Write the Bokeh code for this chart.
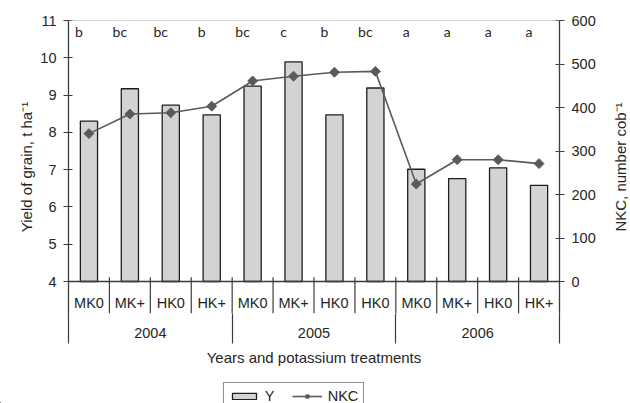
import math
from bokeh.plotting import figure
from bokeh.layouts import column, row
from bokeh.models import (Range1d, LinearAxis, FixedTicker, Span, Legend, LegendItem)
from bokeh.core.properties import value
from bokeh.embed import file_html
from bokeh.resources import INLINE

# ---------------- data ----------------
years = ["2004", "2005", "2006"]
treatments = ["MK0", "MK+", "HK0", "HK+",
              "MK0", "MK+", "HK0", "HK0",
              "MK0", "MK+", "HK0", "HK+"]
yield_t = [8.30, 9.17, 8.73, 8.47, 9.24, 9.89, 8.47, 9.19, 7.01, 6.76, 7.05, 6.58]
nkc = [340, 385, 388, 403, 461, 472, 481, 483, 224, 280, 280, 271]
letters = ["b", "bc", "bc", "b", "bc", "c", "b", "bc", "a", "a", "a", "a"]
yield_ticks = [4, 5, 6, 7, 8, 9, 10, 11]
nkc_ticks = [0, 100, 200, 300, 400, 500, 600]

# ---------------- layout (canvas pixels) ----------------
W, H = 630, 403
H1 = 372                                # main chart height, legend strip below
W1 = 598                                # main chart width, right title strip beside
FL, FR, FT, FB = 68, 560, 20, 313      # frame edges
BASE = 281                              # pixel row of yield=4 / nkc=0
SEP_OUT = 30                            # year separators below the frame
Y_LO, Y_HI = yield_ticks[0], yield_ticks[-1]
N_LO, N_HI = nkc_ticks[0], nkc_ticks[-1]
ypp = (Y_HI - Y_LO) / (BASE - FT)       # yield units per pixel
npp = (N_HI - N_LO) / (BASE - FT)
y_bot = Y_LO - (FB - BASE) * ypp
n_bot = N_LO - (FB - BASE) * npp
ncat = len(treatments)

def ydat(px):
    return Y_HI - (px - FT) * ypp

centers = [i + 0.5 for i in range(ncat)]
per_year = ncat // len(years)
year_centers = [per_year * k + per_year / 2 for k in range(len(years))]
year_bounds = [per_year * k for k in range(len(years) + 1)]

FONT = "Liberation Sans"
FS = "14.5px"
TFS = "15px"
TXT = "#262626"
AX = "#3c3c3c"
BAR_FILL, BAR_LINE = "#d3d3d3", "#1e1e1e"
LINE_C = "#5a5a5a"

def plain(fig):
    fig.outline_line_color = None
    fig.grid.visible = False
    fig.background_fill_color = "white"
    fig.border_fill_color = "white"

def style_title(ax, text, standoff):
    ax.axis_label = text
    ax.axis_label_standoff = standoff
    ax.axis_label_text_font = FONT
    ax.axis_label_text_font_size = TFS
    ax.axis_label_text_font_style = "normal"
    ax.axis_label_text_color = TXT

p1 = figure(width=W1, height=H1, x_range=Range1d(0, ncat), y_range=Range1d(y_bot, Y_HI),
            output_backend="svg", toolbar_location=None,
            min_border_left=FL, min_border_right=W1 - FR,
            min_border_top=FT, min_border_bottom=H1 - FB)
plain(p1)
p1.extra_y_ranges = {"nkc": Range1d(n_bot, N_HI)}

def style_value_axis(ax):
    ax.minor_tick_line_color = None
    ax.major_tick_in = 4
    ax.major_tick_out = 5
    ax.major_tick_line_color = AX
    ax.major_tick_line_width = 1.2
    ax.axis_line_color = AX
    ax.axis_line_width = 1.3
    ax.major_label_standoff = 7
    ax.major_label_text_font = FONT
    ax.major_label_text_font_size = FS
    ax.major_label_text_color = TXT

# left axis
ya = p1.yaxis[0]
ya.ticker = FixedTicker(ticks=yield_ticks)
style_value_axis(ya)
style_title(ya, "Yield of grain, t ha⁻¹", 2)

# right axis (its title sits in the strip beside)
ra = LinearAxis(y_range_name="nkc", ticker=FixedTicker(ticks=nkc_ticks))
style_value_axis(ra)
p1.add_layout(ra, "right")

# bottom axis: year labels, year separators (minor ticks) and title
xa = p1.xaxis[0]
xa.ticker = FixedTicker(ticks=year_centers, minor_ticks=year_bounds)
xa.major_label_overrides = {c: y for c, y in zip(year_centers, years)}
xa.axis_line_color = None
xa.major_tick_line_color = None
xa.major_tick_out = 0
xa.major_tick_in = 0
xa.minor_tick_line_color = AX
xa.minor_tick_line_width = 1.2
xa.minor_tick_in = 0
xa.minor_tick_out = SEP_OUT
xa.major_label_standoff = 14 - SEP_OUT
xa.major_label_text_font = FONT
xa.major_label_text_font_size = FS
xa.major_label_text_color = TXT
style_title(xa, "Years and potassium treatments", 8)

# top border and baseline
p1.add_layout(Span(location=Y_HI, dimension="width", line_color="#a6a6a6", line_width=1))
p1.add_layout(Span(location=Y_LO, dimension="width", line_color=AX, line_width=1.3))

# bars
bars = p1.vbar(x=centers, top=yield_t, bottom=Y_LO, width=0.42,
               fill_color=BAR_FILL, line_color=BAR_LINE, line_width=1.3)

# NKC line
ln = p1.line(x=centers, y=nkc, y_range_name="nkc", line_color=LINE_C, line_width=1.6)
sc = p1.scatter(x=centers, y=nkc, y_range_name="nkc", marker="square", angle=math.pi / 4,
                size=7, fill_color=LINE_C, line_color=LINE_C)

# significance letters
p1.text(x=centers, y=[ydat(31)] * ncat, text=letters, x_offset=-10,
        text_align="center", text_baseline="middle",
        text_font=value("Lato"), text_font_size="14px", text_color=TXT)

# category separators (inside the frame, crossing the baseline)
inner = [i for i in range(1, ncat)]
p1.segment(x0=inner, x1=inner, y0=[ydat(276.7)] * len(inner), y1=[y_bot] * len(inner),
           line_color=AX, line_width=1.2)

# treatment labels
p1.text(x=centers, y=[ydat(302)] * ncat, text=treatments,
        text_align="center", text_baseline="middle",
        text_font=value(FONT), text_font_size=FS, text_color=TXT)

# ---------------- right title strip ----------------
W3 = W - W1
p3 = figure(width=W3, height=H1, x_range=Range1d(0, 1), y_range=Range1d(0, 1),
            output_backend="svg", toolbar_location=None,
            x_axis_location=None, y_axis_location="left",
            min_border_left=W3 - 1, min_border_right=0,
            min_border_top=FT, min_border_bottom=H1 - FB)
plain(p3)
ta = p3.yaxis[0]
ta.ticker = FixedTicker(ticks=[])
ta.axis_line_color = None
ta.major_tick_line_color = None
ta.minor_tick_line_color = None
ta.major_tick_out = 0
ta.major_tick_in = 0
ta.major_label_standoff = 0
style_title(ta, "NKC, number cob⁻¹", 1)

# ---------------- legend strip ----------------
H2 = H - H1
p2 = figure(width=W, height=H2, x_range=Range1d(1000, 1001), y_range=Range1d(1000, 1001),
            output_backend="svg", toolbar_location=None,
            x_axis_location=None, y_axis_location=None,
            min_border=0, min_border_left=0, min_border_right=0,
            min_border_top=0, min_border_bottom=0)
plain(p2)
p2.extra_y_ranges = {"nkc": Range1d(100000, 100001)}
# legend proxies (same data, far outside this strip's visible ranges)
lb = p2.vbar(x=centers, top=yield_t, bottom=Y_LO, width=0.42,
             fill_color=BAR_FILL, line_color=BAR_LINE, line_width=1.3)
ll = p2.line(x=centers, y=nkc, y_range_name="nkc", line_color=LINE_C, line_width=1.6)
ls = p2.scatter(x=centers, y=nkc, y_range_name="nkc", marker="square", angle=math.pi / 4,
                size=7, fill_color=LINE_C, line_color=LINE_C)

LEG_LEFT, LEG_TOP, LEG_H = 222.7, 383 - H1, 27
legend = Legend(items=[LegendItem(label="Y", renderers=[lb]),
                       LegendItem(label="NKC", renderers=[ll, ls])],
                orientation="horizontal",
                location=(LEG_LEFT, H2 - LEG_TOP - LEG_H),
                border_line_color="#222222", border_line_width=1,
                background_fill_color="white", background_fill_alpha=1,
                padding=5, spacing=7, margin=0, label_standoff=6,
                glyph_width=30, glyph_height=8, label_height=16,
                label_text_font=FONT, label_text_font_size=FS,
                label_text_color=TXT)
p2.add_layout(legend)

p = column(row(p1, p3, spacing=0), p2, spacing=0)
open("out.html", "w").write(file_html(p, INLINE))
